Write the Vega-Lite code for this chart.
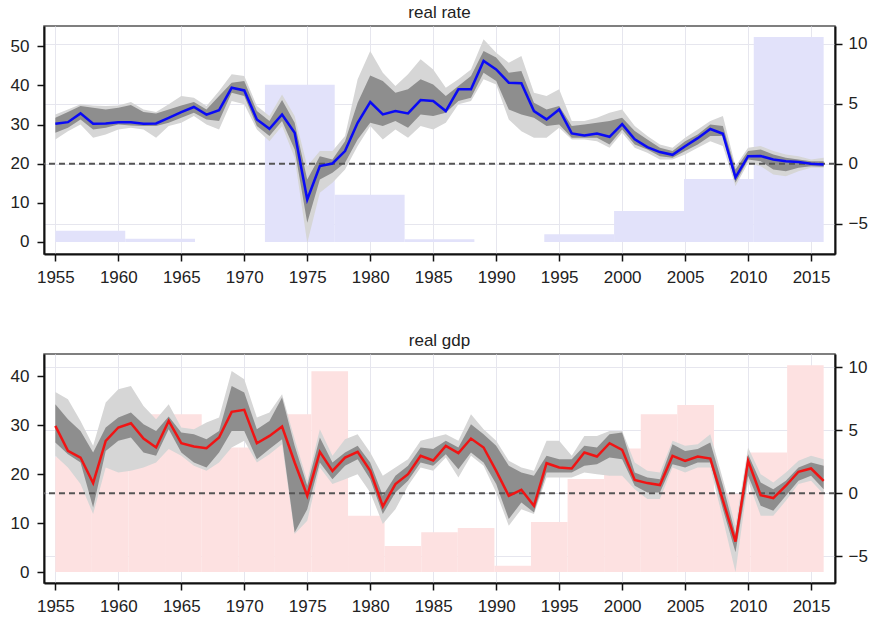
{
  "$schema": "https://vega.github.io/schema/vega-lite/v6.json",
  "padding": {"left": 9, "top": 3, "right": 2, "bottom": 4},
  "spacing": 45,
  "background": "white",
  "datasets": {
    "rateBars": [
      {"x0": 1955.00, "x1": 1960.55, "h": 2.9},
      {"x0": 1960.55, "x1": 1966.09, "h": 0.85},
      {"x0": 1971.64, "x1": 1977.18, "h": 40.2},
      {"x0": 1977.18, "x1": 1982.73, "h": 12.1},
      {"x0": 1982.73, "x1": 1988.27, "h": 0.7},
      {"x0": 1993.82, "x1": 1999.36, "h": 2.0},
      {"x0": 1999.36, "x1": 2004.91, "h": 7.9},
      {"x0": 2004.91, "x1": 2010.45, "h": 16.1},
      {"x0": 2010.45, "x1": 2016.00, "h": 52.4}
    ],
    "gdpBars": [
      {"x0": 1955.00, "x1": 1957.90, "h": 23.5},
      {"x0": 1957.90, "x1": 1960.81, "h": 22.0},
      {"x0": 1960.81, "x1": 1963.71, "h": 32.2},
      {"x0": 1963.71, "x1": 1966.62, "h": 32.2},
      {"x0": 1966.62, "x1": 1969.52, "h": 25.4},
      {"x0": 1969.52, "x1": 1972.43, "h": 25.4},
      {"x0": 1972.43, "x1": 1975.33, "h": 32.2},
      {"x0": 1975.33, "x1": 1978.24, "h": 41.0},
      {"x0": 1978.24, "x1": 1981.14, "h": 11.5},
      {"x0": 1981.14, "x1": 1984.05, "h": 5.3},
      {"x0": 1984.05, "x1": 1986.95, "h": 8.1},
      {"x0": 1986.95, "x1": 1989.86, "h": 9.0},
      {"x0": 1989.86, "x1": 1992.76, "h": 1.3},
      {"x0": 1992.76, "x1": 1995.67, "h": 10.2},
      {"x0": 1995.67, "x1": 1998.57, "h": 19.0},
      {"x0": 1998.57, "x1": 2001.48, "h": 25.2},
      {"x0": 2001.48, "x1": 2004.38, "h": 32.2},
      {"x0": 2004.38, "x1": 2007.29, "h": 34.1},
      {"x0": 2007.29, "x1": 2010.19, "h": 16.0},
      {"x0": 2010.19, "x1": 2013.10, "h": 24.4},
      {"x0": 2013.10, "x1": 2016.00, "h": 42.2}
    ],
    "rate": [
      {"yr": 1955, "v": 3.33, "dhi": 3.84, "dlo": 2.59, "lhi": 4.11, "llo": 2.03},
      {"yr": 1956, "v": 3.47, "dhi": 4.31, "dlo": 3.0, "lhi": 4.53, "llo": 2.72},
      {"yr": 1957, "v": 4.2, "dhi": 4.81, "dlo": 3.7, "lhi": 4.95, "llo": 3.28},
      {"yr": 1958, "v": 3.33, "dhi": 4.67, "dlo": 2.86, "lhi": 4.86, "llo": 2.17},
      {"yr": 1959, "v": 3.36, "dhi": 4.53, "dlo": 3.0, "lhi": 4.81, "llo": 2.45},
      {"yr": 1960, "v": 3.47, "dhi": 4.67, "dlo": 3.28, "lhi": 4.86, "llo": 2.86},
      {"yr": 1961, "v": 3.47, "dhi": 4.89, "dlo": 3.2, "lhi": 5.14, "llo": 3.0},
      {"yr": 1962, "v": 3.33, "dhi": 4.31, "dlo": 3.14, "lhi": 4.53, "llo": 2.86},
      {"yr": 1963, "v": 3.36, "dhi": 4.2, "dlo": 3.14, "lhi": 4.31, "llo": 2.17},
      {"yr": 1964, "v": 3.83, "dhi": 4.53, "dlo": 3.42, "lhi": 4.95, "llo": 3.14},
      {"yr": 1965, "v": 4.3, "dhi": 4.86, "dlo": 3.84, "lhi": 5.64, "llo": 3.42},
      {"yr": 1966, "v": 4.73, "dhi": 5.14, "dlo": 4.25, "lhi": 5.5, "llo": 3.98},
      {"yr": 1967, "v": 4.1, "dhi": 4.53, "dlo": 3.7, "lhi": 4.81, "llo": 3.28},
      {"yr": 1968, "v": 4.47, "dhi": 5.64, "dlo": 3.56, "lhi": 6.06, "llo": 2.86},
      {"yr": 1969, "v": 6.33, "dhi": 6.75, "dlo": 5.92, "lhi": 7.45, "llo": 5.23},
      {"yr": 1970, "v": 6.11, "dhi": 6.89, "dlo": 5.64, "lhi": 7.31, "llo": 4.95},
      {"yr": 1971, "v": 3.7, "dhi": 4.39, "dlo": 3.14, "lhi": 4.81, "llo": 2.86},
      {"yr": 1972, "v": 2.92, "dhi": 3.56, "dlo": 2.31, "lhi": 3.98, "llo": 1.89},
      {"yr": 1973, "v": 4.11, "dhi": 5.31, "dlo": 3.56, "lhi": 5.78, "llo": 3.14},
      {"yr": 1974, "v": 2.59, "dhi": 3.42, "dlo": 1.2, "lhi": 3.98, "llo": 0.5},
      {"yr": 1975, "v": -2.97, "dhi": -1.3, "dlo": -4.91, "lhi": -0.19, "llo": -6.58},
      {"yr": 1976, "v": -0.19, "dhi": 0.64, "dlo": -1.3, "lhi": 1.06, "llo": -2.41},
      {"yr": 1977, "v": 0.03, "dhi": 0.36, "dlo": -0.75, "lhi": 1.06, "llo": -1.58},
      {"yr": 1978, "v": 1.06, "dhi": 1.89, "dlo": 0.09, "lhi": 2.31, "llo": -0.47},
      {"yr": 1979, "v": 3.42, "dhi": 5.09, "dlo": 2.03, "lhi": 7.03, "llo": 1.48},
      {"yr": 1980, "v": 5.14, "dhi": 7.36, "dlo": 3.42, "lhi": 9.39, "llo": 3.14},
      {"yr": 1981, "v": 4.11, "dhi": 6.89, "dlo": 3.14, "lhi": 7.59, "llo": 2.03},
      {"yr": 1982, "v": 4.39, "dhi": 5.92, "dlo": 3.56, "lhi": 6.48, "llo": 2.86},
      {"yr": 1983, "v": 4.2, "dhi": 6.2, "dlo": 3.0, "lhi": 7.45, "llo": 2.17},
      {"yr": 1984, "v": 5.31, "dhi": 7.03, "dlo": 4.11, "lhi": 8.7, "llo": 3.14},
      {"yr": 1985, "v": 5.23, "dhi": 6.61, "dlo": 3.98, "lhi": 7.86, "llo": 2.86},
      {"yr": 1986, "v": 4.39, "dhi": 5.64, "dlo": 4.25, "lhi": 6.34, "llo": 3.42},
      {"yr": 1987, "v": 6.2, "dhi": 6.48, "dlo": 5.23, "lhi": 7.03, "llo": 4.95},
      {"yr": 1988, "v": 6.2, "dhi": 7.31, "dlo": 5.5, "lhi": 7.86, "llo": 5.23},
      {"yr": 1989, "v": 8.56, "dhi": 9.39, "dlo": 7.59, "lhi": 10.36, "llo": 7.03},
      {"yr": 1990, "v": 7.86, "dhi": 8.84, "dlo": 6.89, "lhi": 9.25, "llo": 6.61},
      {"yr": 1991, "v": 6.75, "dhi": 7.59, "dlo": 4.53, "lhi": 8.42, "llo": 3.7},
      {"yr": 1992, "v": 6.7, "dhi": 7.73, "dlo": 4.11, "lhi": 8.98, "llo": 2.72},
      {"yr": 1993, "v": 4.39, "dhi": 5.09, "dlo": 3.84, "lhi": 5.92, "llo": 2.17},
      {"yr": 1994, "v": 3.7, "dhi": 4.53, "dlo": 3.14, "lhi": 5.64, "llo": 2.17},
      {"yr": 1995, "v": 4.53, "dhi": 4.81, "dlo": 3.28, "lhi": 6.2, "llo": 3.0},
      {"yr": 1996, "v": 2.53, "dhi": 3.14, "dlo": 2.17, "lhi": 3.56, "llo": 2.03},
      {"yr": 1997, "v": 2.36, "dhi": 3.28, "dlo": 2.17, "lhi": 3.56, "llo": 2.03},
      {"yr": 1998, "v": 2.53, "dhi": 3.42, "dlo": 2.17, "lhi": 3.84, "llo": 1.89},
      {"yr": 1999, "v": 2.25, "dhi": 3.56, "dlo": 1.61, "lhi": 4.25, "llo": 1.34},
      {"yr": 2000, "v": 3.3, "dhi": 3.84, "dlo": 2.86, "lhi": 4.53, "llo": 2.59},
      {"yr": 2001, "v": 2.05, "dhi": 2.73, "dlo": 1.61, "lhi": 3.14, "llo": 1.34},
      {"yr": 2002, "v": 1.39, "dhi": 2.03, "dlo": 1.2, "lhi": 2.31, "llo": 0.92},
      {"yr": 2003, "v": 0.98, "dhi": 1.34, "dlo": 0.64, "lhi": 1.61, "llo": 0.36},
      {"yr": 2004, "v": 0.75, "dhi": 1.06, "dlo": 0.5, "lhi": 1.34, "llo": 0.36},
      {"yr": 2005, "v": 1.47, "dhi": 1.89, "dlo": 1.06, "lhi": 2.17, "llo": 0.78},
      {"yr": 2006, "v": 2.14, "dhi": 2.45, "dlo": 1.61, "lhi": 2.86, "llo": 1.34},
      {"yr": 2007, "v": 2.9, "dhi": 3.28, "dlo": 2.31, "lhi": 3.56, "llo": 1.89},
      {"yr": 2008, "v": 2.5, "dhi": 3.14, "dlo": 2.31, "lhi": 3.98, "llo": 1.48},
      {"yr": 2009, "v": -1.13, "dhi": -0.47, "dlo": -1.58, "lhi": -0.19, "llo": -1.86},
      {"yr": 2010, "v": 0.64, "dhi": 1.06, "dlo": 0.36, "lhi": 1.34, "llo": 0.09},
      {"yr": 2011, "v": 0.65, "dhi": 1.2, "dlo": 0.22, "lhi": 1.48, "llo": -0.19},
      {"yr": 2012, "v": 0.36, "dhi": 0.78, "dlo": -0.47, "lhi": 1.06, "llo": -0.89},
      {"yr": 2013, "v": 0.22, "dhi": 0.5, "dlo": -0.61, "lhi": 0.78, "llo": -1.03},
      {"yr": 2014, "v": 0.15, "dhi": 0.36, "dlo": -0.33, "lhi": 0.64, "llo": -0.61},
      {"yr": 2015, "v": 0.0, "dhi": 0.22, "dlo": -0.19, "lhi": 0.36, "llo": -0.33},
      {"yr": 2016, "v": -0.05, "dhi": 0.22, "dlo": -0.25, "lhi": 0.5, "llo": -0.33}
    ],
    "gdp": [
      {"yr": 1955, "v": 5.35, "dhi": 7.07, "dlo": 4.02, "lhi": 8.04, "llo": 2.97},
      {"yr": 1956, "v": 3.36, "dhi": 5.88, "dlo": 3.10, "lhi": 7.46, "llo": 2.04},
      {"yr": 1957, "v": 2.83, "dhi": 4.95, "dlo": 2.44, "lhi": 5.74, "llo": 0.72},
      {"yr": 1958, "v": 0.80, "dhi": 3.23, "dlo": -1.14, "lhi": 3.76, "llo": -1.66},
      {"yr": 1959, "v": 4.16, "dhi": 5.21, "dlo": 3.36, "lhi": 7.20, "llo": 2.04},
      {"yr": 1960, "v": 5.22, "dhi": 6.01, "dlo": 4.16, "lhi": 8.26, "llo": 1.64},
      {"yr": 1961, "v": 5.56, "dhi": 6.41, "dlo": 4.42, "lhi": 8.52, "llo": 1.78},
      {"yr": 1962, "v": 4.34, "dhi": 5.48, "dlo": 3.23, "lhi": 6.93, "llo": 2.04},
      {"yr": 1963, "v": 3.63, "dhi": 4.95, "dlo": 2.97, "lhi": 5.88, "llo": 2.44},
      {"yr": 1964, "v": 5.74, "dhi": 6.09, "dlo": 5.08, "lhi": 7.07, "llo": 3.50},
      {"yr": 1965, "v": 3.97, "dhi": 4.82, "dlo": 3.23, "lhi": 5.21, "llo": 2.97},
      {"yr": 1966, "v": 3.71, "dhi": 4.69, "dlo": 2.44, "lhi": 5.08, "llo": 2.17},
      {"yr": 1967, "v": 3.57, "dhi": 4.29, "dlo": 2.04, "lhi": 5.61, "llo": 1.78},
      {"yr": 1968, "v": 4.42, "dhi": 4.95, "dlo": 3.23, "lhi": 6.01, "llo": 2.44},
      {"yr": 1969, "v": 6.46, "dhi": 8.52, "dlo": 4.95, "lhi": 9.71, "llo": 3.63},
      {"yr": 1970, "v": 6.62, "dhi": 8.0, "dlo": 4.95, "lhi": 9.05, "llo": 4.16},
      {"yr": 1971, "v": 3.97, "dhi": 5.08, "dlo": 2.70, "lhi": 6.01, "llo": 2.44},
      {"yr": 1972, "v": 4.55, "dhi": 5.74, "dlo": 3.50, "lhi": 6.41, "llo": 3.10},
      {"yr": 1973, "v": 5.29, "dhi": 7.60, "dlo": 4.29, "lhi": 7.86, "llo": 3.89},
      {"yr": 1974, "v": 2.44, "dhi": 3.76, "dlo": -3.12, "lhi": 4.29, "llo": -3.25},
      {"yr": 1975, "v": -0.21, "dhi": 0.58, "dlo": -1.27, "lhi": 0.98, "llo": -2.19},
      {"yr": 1976, "v": 3.28, "dhi": 4.42, "dlo": 2.44, "lhi": 5.08, "llo": 2.04},
      {"yr": 1977, "v": 1.77, "dhi": 2.44, "dlo": 1.11, "lhi": 2.97, "llo": 0.72},
      {"yr": 1978, "v": 2.83, "dhi": 3.23, "dlo": 2.17, "lhi": 4.29, "llo": 1.11},
      {"yr": 1979, "v": 3.28, "dhi": 3.76, "dlo": 2.70, "lhi": 4.69, "llo": 1.51},
      {"yr": 1980, "v": 1.77, "dhi": 2.44, "dlo": 1.11, "lhi": 3.23, "llo": 0.06},
      {"yr": 1981, "v": -1.06, "dhi": -0.21, "dlo": -1.66, "lhi": 1.38, "llo": -2.46},
      {"yr": 1982, "v": 0.72, "dhi": 1.38, "dlo": 0.06, "lhi": 2.04, "llo": -1.27},
      {"yr": 1983, "v": 1.51, "dhi": 2.17, "dlo": 0.98, "lhi": 2.70, "llo": 0.58},
      {"yr": 1984, "v": 2.97, "dhi": 3.63, "dlo": 2.44, "lhi": 4.16, "llo": 2.04},
      {"yr": 1985, "v": 2.6, "dhi": 3.50, "dlo": 2.17, "lhi": 4.42, "llo": 1.78},
      {"yr": 1986, "v": 3.76, "dhi": 4.16, "dlo": 3.10, "lhi": 4.69, "llo": 2.83},
      {"yr": 1987, "v": 3.18, "dhi": 3.63, "dlo": 1.91, "lhi": 4.16, "llo": 1.25},
      {"yr": 1988, "v": 4.34, "dhi": 5.48, "dlo": 3.23, "lhi": 6.27, "llo": 2.97},
      {"yr": 1989, "v": 3.63, "dhi": 4.69, "dlo": 2.44, "lhi": 5.08, "llo": 2.17},
      {"yr": 1990, "v": 1.77, "dhi": 3.76, "dlo": 0.72, "lhi": 4.16, "llo": 0.06},
      {"yr": 1991, "v": -0.21, "dhi": 2.17, "dlo": -2.06, "lhi": 2.57, "llo": -2.59},
      {"yr": 1992, "v": 0.27, "dhi": 1.64, "dlo": -0.74, "lhi": 2.04, "llo": -1.27},
      {"yr": 1993, "v": -1.0, "dhi": 1.38, "dlo": -1.53, "lhi": 1.78, "llo": -1.66},
      {"yr": 1994, "v": 2.38, "dhi": 2.97, "dlo": 1.64, "lhi": 4.16, "llo": 1.25},
      {"yr": 1995, "v": 2.04, "dhi": 2.70, "dlo": 1.64, "lhi": 4.16, "llo": 1.25},
      {"yr": 1996, "v": 1.96, "dhi": 2.70, "dlo": 1.64, "lhi": 2.97, "llo": 1.25},
      {"yr": 1997, "v": 3.23, "dhi": 3.76, "dlo": 2.17, "lhi": 4.55, "llo": 1.64},
      {"yr": 1998, "v": 2.91, "dhi": 3.63, "dlo": 2.30, "lhi": 4.55, "llo": 1.51},
      {"yr": 1999, "v": 3.97, "dhi": 4.69, "dlo": 2.83, "lhi": 4.95, "llo": 1.38},
      {"yr": 2000, "v": 3.44, "dhi": 4.82, "dlo": 2.70, "lhi": 4.95, "llo": 1.38},
      {"yr": 2001, "v": 1.05, "dhi": 1.64, "dlo": 0.58, "lhi": 2.44, "llo": 0.32},
      {"yr": 2002, "v": 0.80, "dhi": 1.25, "dlo": 0.06, "lhi": 1.78, "llo": -0.47},
      {"yr": 2003, "v": 0.64, "dhi": 1.11, "dlo": 0.06, "lhi": 1.64, "llo": -0.47},
      {"yr": 2004, "v": 2.97, "dhi": 3.89, "dlo": 2.30, "lhi": 4.16, "llo": 2.04},
      {"yr": 2005, "v": 2.57, "dhi": 3.36, "dlo": 2.04, "lhi": 3.76, "llo": 1.64},
      {"yr": 2006, "v": 2.91, "dhi": 3.50, "dlo": 2.44, "lhi": 3.89, "llo": 2.04},
      {"yr": 2007, "v": 2.75, "dhi": 4.02, "dlo": 2.44, "lhi": 4.69, "llo": 2.04},
      {"yr": 2008, "v": -0.58, "dhi": 0.58, "dlo": -1.27, "lhi": 1.11, "llo": -2.06},
      {"yr": 2009, "v": -3.85, "dhi": -3.25, "dlo": -4.70, "lhi": -2.59, "llo": -6.29},
      {"yr": 2010, "v": 2.57, "dhi": 3.10, "dlo": 1.38, "lhi": 3.63, "llo": 0.98},
      {"yr": 2011, "v": -0.16, "dhi": 0.85, "dlo": -1.0, "lhi": 1.51, "llo": -1.80},
      {"yr": 2012, "v": -0.39, "dhi": 0.32, "dlo": -1.40, "lhi": 0.85, "llo": -1.80},
      {"yr": 2013, "v": 0.59, "dhi": 0.98, "dlo": -0.21, "lhi": 1.64, "llo": -0.61},
      {"yr": 2014, "v": 1.70, "dhi": 2.04, "dlo": 0.98, "lhi": 2.57, "llo": 0.72},
      {"yr": 2015, "v": 1.96, "dhi": 2.44, "dlo": 1.38, "lhi": 2.97, "llo": 0.98},
      {"yr": 2016, "v": 0.98, "dhi": 2.17, "dlo": 0.32, "lhi": 2.70, "llo": -0.08}
    ]
  },
  "vconcat": [
    {
      "title": {"text": "real rate"},
      "width": 791,
      "height": 228,
      "layer": [
        {
          "data": {"name": "rateBars"},
          "mark": {"type": "rect", "color": "#e2e2fa"},
          "encoding": {
            "x": {"field": "x0", "type": "quantitative", "title": null,
                  "scale": {"domain": [1954.1, 2016.9], "nice": false, "zero": false},
                  "axis": {"values": [1955, 1960, 1965, 1970, 1975, 1980, 1985, 1990, 1995, 2000, 2005, 2010, 2015], "format": "d", "grid": true, "title": null}},
            "x2": {"field": "x1"},
            "y": {"field": "h", "type": "quantitative", "title": null,
                  "scale": {"domain": [-3.07, 55.2], "nice": false, "zero": false},
                  "axis": {"orient": "left", "values": [0, 10, 20, 30, 40, 50], "grid": false, "title": null, "labelPadding": 8}},
            "y2": {"datum": 0}
          }
        },
        {
          "data": {"name": "rate"},
          "layer": [
            {
              "mark": {"type": "area", "color": "#d6d6d6", "opacity": 1},
              "encoding": {
                "x": {"field": "yr", "type": "quantitative", "title": null},
                "y": {"field": "lhi", "type": "quantitative", "title": null,
                      "scale": {"domain": [-7.5, 11.47], "nice": false, "zero": false},
                      "axis": {"orient": "right", "values": [-5, 0, 5, 10], "grid": true, "title": null, "labelPadding": 6}},
                "y2": {"field": "llo"}
              }
            },
            {
              "mark": {"type": "area", "color": "#8e8e8e", "opacity": 1},
              "encoding": {
                "x": {"field": "yr", "type": "quantitative", "title": null},
                "y": {"field": "dhi", "type": "quantitative", "title": null},
                "y2": {"field": "dlo"}
              }
            },
            {
              "data": {"values": [{"z": 0}]},
              "mark": {"type": "rule", "color": "#555555", "strokeWidth": 2, "strokeDash": [6, 4]},
              "encoding": {"y": {"datum": 0}}
            },
            {
              "mark": {"type": "line", "color": "#0a0af5", "strokeWidth": 2.5},
              "encoding": {
                "x": {"field": "yr", "type": "quantitative", "title": null},
                "y": {"field": "v", "type": "quantitative", "title": null}
              }
            }
          ]
        }
      ],
      "resolve": {"scale": {"y": "independent"}}
    },
    {
      "title": {"text": "real gdp"},
      "width": 791,
      "height": 229,
      "layer": [
        {
          "data": {"name": "gdpBars"},
          "mark": {"type": "rect", "color": "#fde1e1"},
          "encoding": {
            "x": {"field": "x0", "type": "quantitative", "title": null,
                  "scale": {"domain": [1954.1, 2016.9], "nice": false, "zero": false},
                  "axis": {"values": [1955, 1960, 1965, 1970, 1975, 1980, 1985, 1990, 1995, 2000, 2005, 2010, 2015], "format": "d", "grid": true, "title": null}},
            "x2": {"field": "x1"},
            "y": {"field": "h", "type": "quantitative", "title": null,
                  "scale": {"domain": [-2.24, 44.5], "nice": false, "zero": false},
                  "axis": {"orient": "left", "values": [0, 10, 20, 30, 40], "grid": false, "title": null, "labelPadding": 8}},
            "y2": {"datum": 0}
          }
        },
        {
          "data": {"name": "gdp"},
          "layer": [
            {
              "mark": {"type": "area", "color": "#d6d6d6", "opacity": 1},
              "encoding": {
                "x": {"field": "yr", "type": "quantitative", "title": null},
                "y": {"field": "lhi", "type": "quantitative", "title": null,
                      "scale": {"domain": [-7.14, 11.06], "nice": false, "zero": false},
                      "axis": {"orient": "right", "values": [-5, 0, 5, 10], "grid": true, "title": null, "labelPadding": 6}},
                "y2": {"field": "llo"}
              }
            },
            {
              "mark": {"type": "area", "color": "#8e8e8e", "opacity": 1},
              "encoding": {
                "x": {"field": "yr", "type": "quantitative", "title": null},
                "y": {"field": "dhi", "type": "quantitative", "title": null},
                "y2": {"field": "dlo"}
              }
            },
            {
              "data": {"values": [{"z": 0}]},
              "mark": {"type": "rule", "color": "#555555", "strokeWidth": 2, "strokeDash": [6, 4]},
              "encoding": {"y": {"datum": 0}}
            },
            {
              "mark": {"type": "line", "color": "#f01414", "strokeWidth": 2.5},
              "encoding": {
                "x": {"field": "yr", "type": "quantitative", "title": null},
                "y": {"field": "v", "type": "quantitative", "title": null}
              }
            }
          ]
        }
      ],
      "resolve": {"scale": {"y": "independent"}}
    }
  ],
  "resolve": {"scale": {"x": "independent", "y": "independent"}},
  "config": {
    "font": "Liberation Sans",
    "view": {"stroke": "#555555", "strokeWidth": 1.5},
    "title": {"font": "Liberation Sans", "fontSize": 17, "fontWeight": "normal", "color": "#222222", "anchor": "middle", "offset": 4},
    "axis": {
      "labelFont": "Liberation Sans",
      "labelFontSize": 17,
      "labelColor": "#222222",
      "tickColor": "#111111",
      "tickSize": 7,
      "tickWidth": 1.5,
      "domainColor": "#111111",
      "domainWidth": 2,
      "gridColor": "#e6e6ee",
      "gridWidth": 1,
      "labelFlush": false,
      "labelOverlap": false,
      "labelBound": false
    },
    "axisX": {"labelPadding": 8}
  }
}
